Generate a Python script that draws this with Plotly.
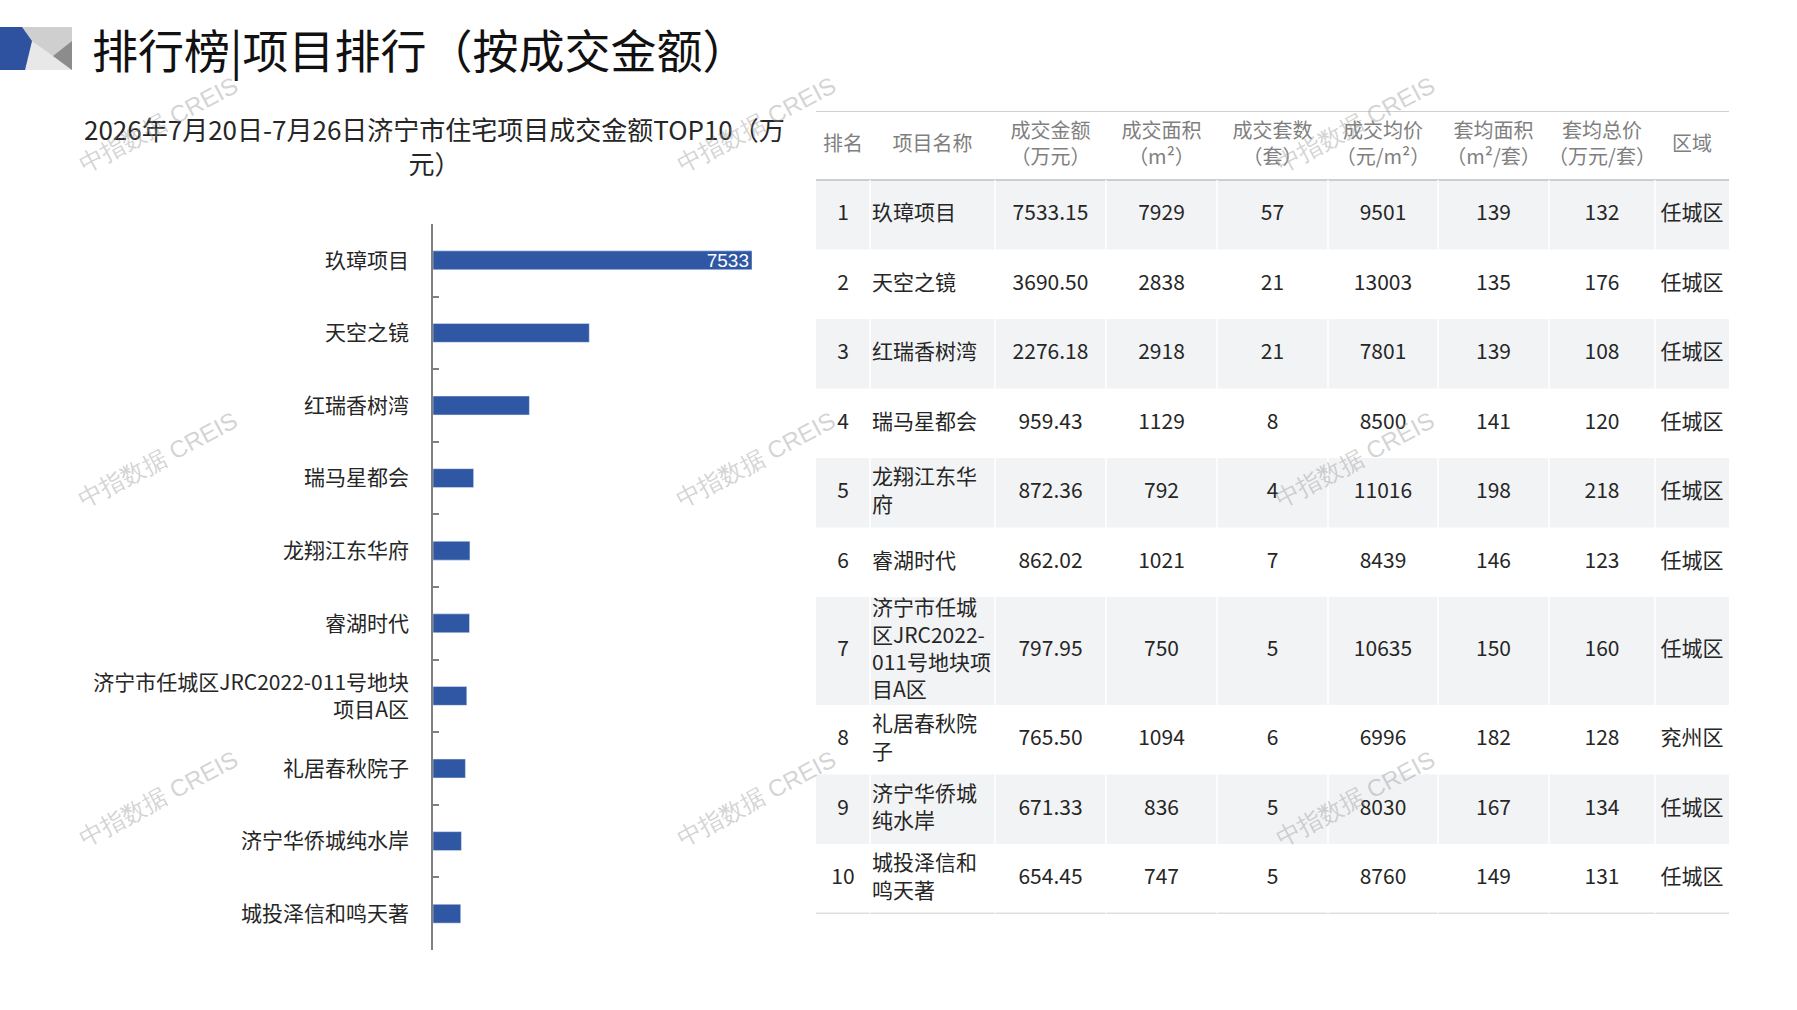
import plotly.graph_objects as go

W, H = 1797, 1010

# ---- data ----
ranks = [1, 2, 3, 4, 5, 6, 7, 8, 9, 10]
projects = ['玖璋项目', '天空之镜', '红瑞香树湾', '瑞马星都会', '龙翔江东华府', '睿湖时代',
            '济宁市任城区JRC2022-011号地块项目A区', '礼居春秋院子', '济宁华侨城纯水岸', '城投泽信和鸣天著']
axis_labels = ['玖璋项目', '天空之镜', '红瑞香树湾', '瑞马星都会', '龙翔江东华府', '睿湖时代',
               '济宁市任城区JRC2022-011号地块<br>项目A区', '礼居春秋院子', '济宁华侨城纯水岸', '城投泽信和鸣天著']
table_names = ['玖璋项目', '天空之镜', '红瑞香树湾', '瑞马星都会', '龙翔江东华<br>府', '睿湖时代',
               '济宁市任城<br>区JRC2022-<br>011号地块项<br>目A区', '礼居春秋院<br>子', '济宁华侨城<br>纯水岸', '城投泽信和<br>鸣天著']
amount = [7533.15, 3690.50, 2276.18, 959.43, 872.36, 862.02, 797.95, 765.50, 671.33, 654.45]
area = [7929, 2838, 2918, 1129, 792, 1021, 750, 1094, 836, 747]
units = [57, 21, 21, 8, 4, 7, 5, 6, 5, 5]
avg_price = [9501, 13003, 7801, 8500, 11016, 8439, 10635, 6996, 8030, 8760]
avg_area = [139, 135, 139, 141, 198, 146, 150, 182, 167, 149]
avg_total = [132, 176, 108, 120, 218, 123, 160, 128, 134, 131]
district = ['任城区', '任城区', '任城区', '任城区', '任城区', '任城区', '任城区', '兖州区', '任城区', '任城区']
headers = ['排名', '项目名称', '成交金额<br>（万元）', '成交面积<br>（m²）', '成交套数<br>（套）',
           '成交均价<br>（元/m²）', '套均面积<br>（m²/套）', '套均总价<br>（万元/套）', '区域']

bar_labels = [f'{amount[0]:.0f}'] + [''] * (len(amount) - 1)

FONT = 'Noto Sans CJK SC'
BLUE = '#2F57A3'


def px(x):
    return x / W


def py(y):
    return 1 - y / H


fig = go.Figure()

# ---- left: bar chart ----
fig.add_trace(go.Bar(
    x=amount, y=projects, orientation='h',
    marker=dict(color=BLUE),
    text=bar_labels, textposition='inside', insidetextanchor='end',
    textfont=dict(color='white', size=19, family='Liberation Sans'),
    constraintext='none', hoverinfo='skip', showlegend=False,
    xaxis='x', yaxis='y'))

# ---- right: table built on its own axes ----
col_w = [54, 125, 111, 111, 111, 110, 111, 106, 74]
edges = [0]
for w in col_w:
    edges.append(edges[-1] + w)
header_h = 69
row_h = [max(69.5, 27 * (n.count('<br>') + 1)) for n in table_names]
row_c = []
top = header_h
for h in row_h:
    row_c.append(top + h / 2)
    top += h
total_h = top

shade = [i for i in range(len(ranks)) if i % 2 == 0]
fig.add_trace(go.Bar(
    x=[edges[-1]] * len(shade), y=[row_c[i] for i in shade], base=0,
    width=[row_h[i] for i in shade], orientation='h',
    marker=dict(color='#F2F3F5', line=dict(width=0)),
    hoverinfo='skip', showlegend=False, xaxis='x2', yaxis='y2'))

body_cols = [
    [str(r) for r in ranks],
    table_names,
    [f'{v:.2f}' for v in amount],
    [str(v) for v in area],
    [str(v) for v in units],
    [str(v) for v in avg_price],
    [str(v) for v in avg_area],
    [str(v) for v in avg_total],
    district,
]

for j, col in enumerate(body_cols):
    if j == 1:
        xs = [edges[j] + 2] * len(col)
        pos = 'middle right'
    else:
        xs = [(edges[j] + edges[j + 1]) / 2] * len(col)
        pos = 'middle center'
    fig.add_trace(go.Scatter(
        x=xs, y=row_c, text=col, mode='text', textposition=pos,
        textfont=dict(family=FONT, size=21, color='#262626'),
        hoverinfo='skip', showlegend=False, xaxis='x2', yaxis='y2'))

fig.add_trace(go.Scatter(
    x=[(edges[j] + edges[j + 1]) / 2 for j in range(len(headers))],
    y=[header_h / 2] * len(headers), text=headers, mode='text',
    textposition='middle center',
    textfont=dict(family=FONT, size=20, color='#7F7F7F'),
    hoverinfo='skip', showlegend=False, xaxis='x2', yaxis='y2'))

shapes = []
for yv in [0, header_h, total_h]:
    shapes.append(dict(type='line', xref='x2', yref='y2', x0=0, x1=edges[-1], y0=yv, y1=yv,
                       line=dict(color='#BFBFBF', width=1.5)))
for xv in edges[1:-1]:
    shapes.append(dict(type='line', xref='x2', yref='y2', x0=xv, x1=xv, y0=header_h, y1=total_h,
                       line=dict(color='white', width=1.5)))

# ---- header icon ----
def poly(pts, color):
    d = 'M ' + ' L '.join(f'{px(a):.5f},{py(b):.5f}' for a, b in pts) + ' Z'
    return dict(type='path', xref='paper', yref='paper', path=d,
                fillcolor=color, line=dict(width=0), layer='above')

shapes += [
    poly([(0, 27), (72, 27), (72, 70), (0, 70)], '#CFCFCF'),
    poly([(25, 70), (32, 41), (53, 56), (72, 70)], '#E8E8E8'),
    poly([(53, 56), (72, 41), (72, 70)], '#8C8C8C'),
    poly([(0, 27), (22, 27), (32, 41), (25, 70), (0, 70)], '#2F52A0'),
]

annotations = [
    dict(text='排行榜|项目排行（按成交金额）', x=px(90), y=py(48), xref='paper', yref='paper',
         xanchor='left', yanchor='middle', showarrow=False,
         font=dict(family=FONT, size=46, color='#111111')),
    dict(text='2026年7月20日-7月26日济宁市住宅项目成交金额TOP10（万<br>元）',
         x=px(434), y=py(145), xref='paper', yref='paper',
         xanchor='center', yanchor='middle', showarrow=False,
         font=dict(family=FONT, size=26, color='#262626')),
]

for wx in [158, 756, 1355]:
    for wy in [124, 460, 798]:
        annotations.append(dict(text='中指数据 CREIS', x=px(wx), y=py(wy), xref='paper', yref='paper',
                                xanchor='center', yanchor='middle',
                                showarrow=False, textangle=-28,
                                font=dict(family='Liberation Sans', size=24,
                                          color='rgba(150,150,150,0.42)')))

fig.update_layout(
    width=W, height=H,
    margin=dict(l=0, r=0, t=0, b=0),
    paper_bgcolor='white', plot_bgcolor='rgba(0,0,0,0)',
    bargap=0.74,
    font=dict(family=FONT),
    xaxis=dict(domain=[px(433), px(752)], range=[0, amount[0]], visible=False, fixedrange=True),
    yaxis=dict(domain=[py(950), py(224)], autorange='reversed', type='category',
               tickmode='array', tickvals=projects, ticktext=axis_labels,
               ticks='inside', tickson='boundaries', ticklen=6, tickcolor='#808080', tickwidth=1.5,
               showline=True, linecolor='#808080', linewidth=1.5, showgrid=False,
               ticklabelstandoff=18,
               tickfont=dict(family=FONT, size=21, color='#262626')),
    xaxis2=dict(domain=[px(816), px(816 + edges[-1])], range=[0, edges[-1]], visible=False,
                anchor='y2', fixedrange=True),
    yaxis2=dict(domain=[py(111 + total_h), py(111)], range=[total_h, 0], visible=False,
                anchor='x2', fixedrange=True),
    shapes=shapes,
    annotations=annotations,
)

# drop the page's default body margin so the figure sits at the window's corner
fig.write_html('out.html', config={'displayModeBar': False},
               post_script="document.body.style.margin='0';")
